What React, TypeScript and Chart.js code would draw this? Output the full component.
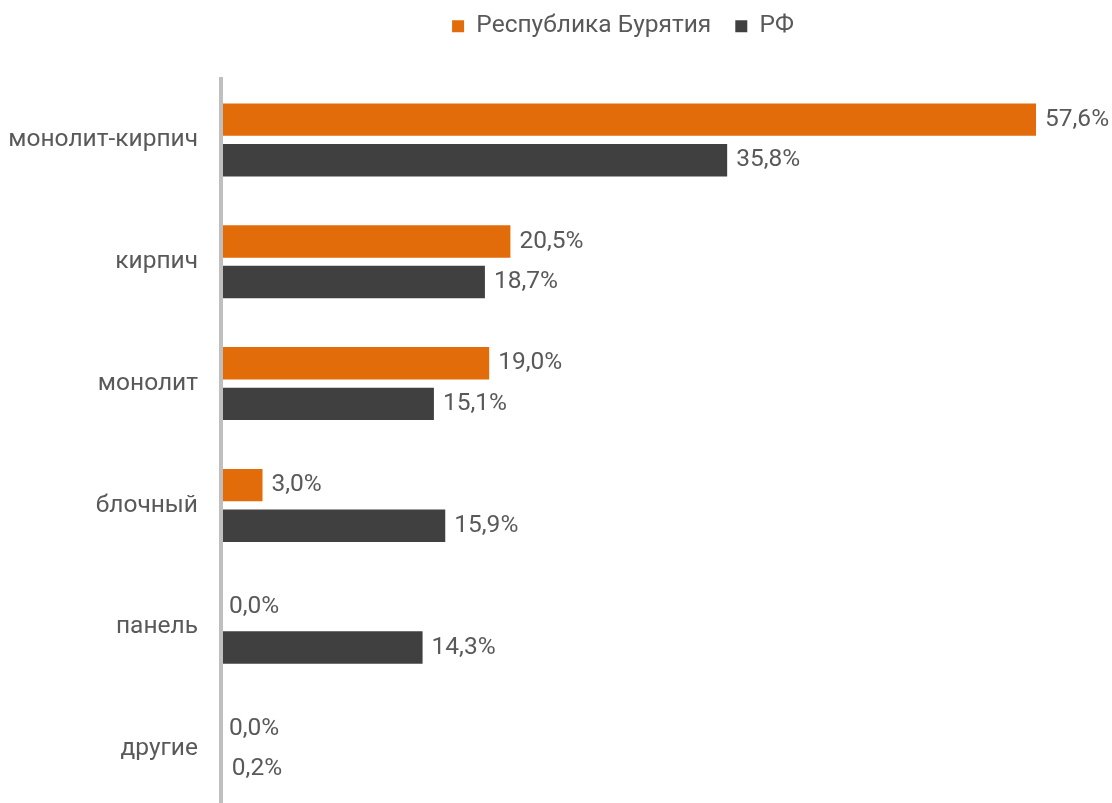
import React, { useEffect, useRef } from "react";
import { Chart, registerables } from "chart.js";

Chart.register(...registerables);

const categories = ["монолит-кирпич", "кирпич", "монолит", "блочный", "панель", "другие"];
const buryatiaValues = [57.6, 20.5, 19.0, 3.0, 0.0, 0.0];
const rfValues = [35.8, 18.7, 15.1, 15.9, 14.3, 0.2];
const seriesNames = ["Республика Бурятия", "РФ"];

const TEXT = "#595959";
const FONT = "Roboto";
const FS = 24.5;

const valueLabels = {
  id: "valueLabels",
  afterDatasetsDraw(chart: any) {
    const ctx = chart.ctx;
    const area = chart.chartArea;
    ctx.save();
    // axis line drawn over the bar bases
    ctx.strokeStyle = "#BFBFBF";
    ctx.lineWidth = 4;
    ctx.beginPath();
    ctx.moveTo(area.left + 1, area.top - 2);
    ctx.lineTo(area.left + 1, area.bottom);
    ctx.stroke();

    ctx.font = `${FS}px ${FONT}`;
    ctx.fillStyle = TEXT;
    ctx.textAlign = "left";
    ctx.textBaseline = "middle";
    chart.data.datasets.forEach((ds: any, di: number) => {
      const meta = chart.getDatasetMeta(di);
      meta.data.forEach((el: any, i: number) => {
        const v = ds.data[i] as number;
        const txt = v.toFixed(1).replace(".", ",") + "%";
        ctx.fillText(txt, el.x + 9, el.y);
      });
    });
    ctx.restore();
  },
};

const legendMargin = {
  id: "legendMargin",
  beforeInit(chart: any) {
    const orig = chart.legend.fit;
    chart.legend.fit = function () {
      orig.bind(chart.legend)();
      this.height = 79;
    };
  },
  afterLayout(chart: any) {
    const lg = chart.legend;
    lg.left += 88;
    lg.right += 88;
    lg.top -= 10;
    lg.bottom -= 10;
  },
};

export default function App() {
  const ref = useRef<HTMLCanvasElement | null>(null);
  useEffect(() => {
    if (!ref.current) return;
    const chart = new Chart(ref.current, {
      type: "bar",
      data: {
        labels: categories,
        datasets: [
          {
            label: seriesNames[0],
            data: buryatiaValues,
            backgroundColor: "#E36C0A",
            barPercentage: 0.8,
            categoryPercentage: 0.665,
          },
          {
            label: seriesNames[1],
            data: rfValues,
            backgroundColor: "#404040",
            barPercentage: 0.8,
            categoryPercentage: 0.665,
          },
        ],
      },
      options: {
        indexAxis: "y",
        animation: false,
        responsive: false,
        maintainAspectRatio: false,
        layout: { padding: { left: 0, right: 42, top: 0, bottom: 0 } },
        plugins: {
          legend: {
            position: "top",
            align: "center",
            labels: {
              boxWidth: 12,
              boxHeight: 12,
              padding: 24,
              color: TEXT,
              font: { family: FONT, size: FS },
            },
          },
          tooltip: { enabled: false },
        },
        scales: {
          x: {
            display: false,
            min: 0,
            max: 60,
          },
          y: {
            afterFit(scale: any) {
              scale.width = 220;
              scale.paddingTop = 0;
              scale.paddingBottom = 0;
            },
            grid: { display: false, drawTicks: false },
            border: { display: false },
            ticks: {
              color: TEXT,
              padding: 22,
              font: { family: FONT, size: FS },
            },
          },
        },
      },
      plugins: [valueLabels, legendMargin],
    });
    return () => chart.destroy();
  }, []);
  return (
    <div style={{ position: "fixed", top: 0, left: 0, width: 1112, height: 810, background: "#fff" }}>
      <canvas ref={ref} width={1112} height={810} style={{ width: 1112, height: 810 }} />
    </div>
  );
}
